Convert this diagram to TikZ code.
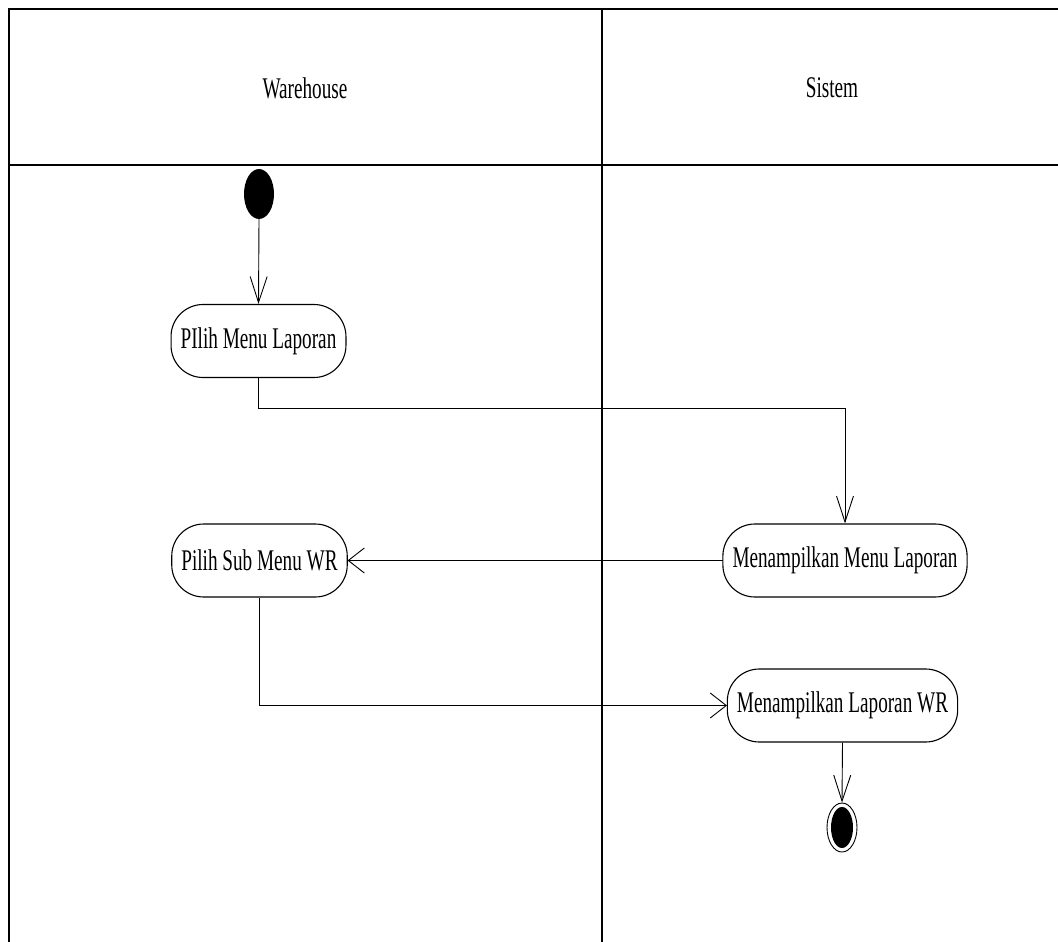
\documentclass[tikz,border=0pt]{standalone}
\usepackage{fontspec}
\setmainfont{Liberation Serif}
\usetikzlibrary{arrows.meta,shapes.geometric,calc}
\newcommand\squeezed[5]{% style, name, x, y, text
  \begin{scope}[shift={(#3,#4)},xscale=0.64]
    \node[#1,transform shape] (#2) at (0,0) {#5};
  \end{scope}}
\tikzset{
  frame/.style={line width=1.6pt,black},
  act/.style={draw,line width=1.1pt,rounded corners=32pt,minimum height=73pt,
    inner xsep=15pt,font=\fontsize{30}{34}\selectfont},
  lane/.style={font=\fontsize{30}{34}\selectfont},
  flow/.style={line width=0.9pt},
  varrow/.style={flow,-{Straight Barb[length=26pt,width=17pt,line width=0.9pt]}},
  harrow/.style={flow,-{Straight Barb[length=16pt,width=25pt,line width=0.9pt]}},
  startnode/.style={ellipse,fill=black,minimum width=30pt,minimum height=50pt,inner sep=0pt},
  endring/.style={ellipse,draw,line width=0.9pt,minimum width=30pt,minimum height=49pt,inner sep=0pt},
  enddot/.style={ellipse,fill=black,minimum width=22pt,minimum height=41pt,inner sep=0pt}
}
\begin{document}
\begin{tikzpicture}[x=1pt,y=-1pt]
\useasboundingbox (0,0) rectangle (1058,942);
% swimlane frame
\draw[frame] (1058,9) -- (9,9) -- (9,942);
\draw[frame] (9,165) -- (1058,165);
\draw[frame] (602,9) -- (602,942);
\squeezed{lane}{wh}{305}{88}{Warehouse}
\squeezed{lane}{si}{832}{88}{Sistem}
% nodes
\node[startnode] (start) at (259,194) {};
\squeezed{act}{p1}{258.5}{341}{PIlih Menu Laporan}
\squeezed{act}{m1}{845}{560.5}{Menampilkan Menu Laporan}
\squeezed{act}{s1}{259.5}{560.5}{Pilih Sub Menu WR}
\squeezed{act}{m2}{842.5}{705.5}{Menampilkan Laporan WR}
\node[endring] (end) at (842,827.5) {};
\node[enddot] (enddot) at (end.center) {};
% connectors
\draw[varrow] (start.south) -- (p1.north);
\draw[varrow] (p1.south) -- ($(p1.south)+(0,30)$) -| (m1.north);
\draw[harrow] (m1.west) -- (s1.east);
\draw[harrow] (s1.south) |- (m2.west);
\draw[varrow] (m2.south) -- (end.north);
\end{tikzpicture}
\end{document}
